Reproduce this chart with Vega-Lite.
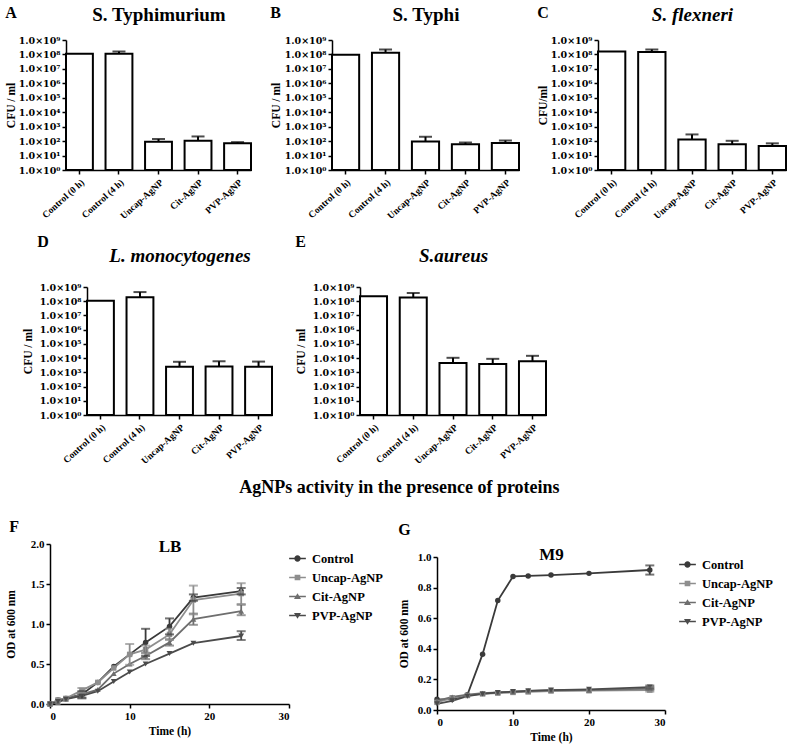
{
  "$schema": "https://vega.github.io/schema/vega-lite/v6.json",
  "background": "white",
  "padding": 5,
  "config": {
    "font": "Liberation Serif",
    "view": {"stroke": null},
    "axis": {"grid": false, "labelFont": "Liberation Serif", "labelFontWeight": "bold", "labelFontSize": 11, "labelColor": "black", "labelOverlap": false, "titleFont": "Liberation Serif", "titleFontWeight": "bold", "titleFontSize": 11.5, "titleColor": "black", "domainColor": "black", "domainWidth": 1.5, "tickColor": "black", "tickWidth": 1.5, "tickSize": 4},
    "title": {"font": "Liberation Serif", "fontWeight": "bold", "color": "black"},
    "legend": {"labelFont": "Liberation Serif", "labelFontWeight": "bold", "labelFontSize": 12.5, "labelColor": "black"}
  },
  "datasets": {
    "bars": [
      {"panel": "A", "group": "Control (0 h)", "mean": 110000000, "upper": null},
      {"panel": "A", "group": "Control (4 h)", "mean": 110000000, "upper": 160000000},
      {"panel": "A", "group": "Uncap-AgNP", "mean": 90, "upper": 140},
      {"panel": "A", "group": "Cit-AgNP", "mean": 105, "upper": 210},
      {"panel": "A", "group": "PVP-AgNP", "mean": 70, "upper": 85},
      {"panel": "B", "group": "Control (0 h)", "mean": 95000000, "upper": null},
      {"panel": "B", "group": "Control (4 h)", "mean": 130000000, "upper": 220000000},
      {"panel": "B", "group": "Uncap-AgNP", "mean": 95, "upper": 200},
      {"panel": "B", "group": "Cit-AgNP", "mean": 60, "upper": 80},
      {"panel": "B", "group": "PVP-AgNP", "mean": 75, "upper": 110},
      {"panel": "C", "group": "Control (0 h)", "mean": 160000000, "upper": null},
      {"panel": "C", "group": "Control (4 h)", "mean": 150000000, "upper": 220000000},
      {"panel": "C", "group": "Uncap-AgNP", "mean": 130, "upper": 290},
      {"panel": "C", "group": "Cit-AgNP", "mean": 60, "upper": 105},
      {"panel": "C", "group": "PVP-AgNP", "mean": 45, "upper": 70},
      {"panel": "D", "group": "Control (0 h)", "mean": 110000000, "upper": null},
      {"panel": "D", "group": "Control (4 h)", "mean": 190000000, "upper": 440000000},
      {"panel": "D", "group": "Uncap-AgNP", "mean": 2500, "upper": 5500},
      {"panel": "D", "group": "Cit-AgNP", "mean": 2600, "upper": 6000},
      {"panel": "D", "group": "PVP-AgNP", "mean": 2500, "upper": 5700},
      {"panel": "E", "group": "Control (0 h)", "mean": 220000000, "upper": null},
      {"panel": "E", "group": "Control (4 h)", "mean": 180000000, "upper": 380000000},
      {"panel": "E", "group": "Uncap-AgNP", "mean": 4500, "upper": 10500},
      {"panel": "E", "group": "Cit-AgNP", "mean": 3800, "upper": 8900},
      {"panel": "E", "group": "PVP-AgNP", "mean": 5900, "upper": 14500}
    ],
    "lb": [
      {"t": 0, "series": "Control", "od": 0.0, "lo": null, "hi": null},
      {"t": 1, "series": "Control", "od": 0.05, "lo": null, "hi": null},
      {"t": 2, "series": "Control", "od": 0.07, "lo": null, "hi": null},
      {"t": 4, "series": "Control", "od": 0.12, "lo": 0.08, "hi": 0.16},
      {"t": 6, "series": "Control", "od": 0.27, "lo": null, "hi": null},
      {"t": 8, "series": "Control", "od": 0.47, "lo": null, "hi": null},
      {"t": 10, "series": "Control", "od": 0.62, "lo": null, "hi": null},
      {"t": 12, "series": "Control", "od": 0.77, "lo": 0.6, "hi": 0.94},
      {"t": 15, "series": "Control", "od": 0.97, "lo": 0.87, "hi": 1.07},
      {"t": 18, "series": "Control", "od": 1.33, "lo": 1.29, "hi": 1.37},
      {"t": 24, "series": "Control", "od": 1.41, "lo": 1.37, "hi": 1.45},
      {"t": 0, "series": "Uncap-AgNP", "od": 0.0, "lo": null, "hi": null},
      {"t": 1, "series": "Uncap-AgNP", "od": 0.05, "lo": null, "hi": null},
      {"t": 2, "series": "Uncap-AgNP", "od": 0.07, "lo": null, "hi": null},
      {"t": 4, "series": "Uncap-AgNP", "od": 0.17, "lo": 0.14, "hi": 0.2},
      {"t": 6, "series": "Uncap-AgNP", "od": 0.27, "lo": null, "hi": null},
      {"t": 8, "series": "Uncap-AgNP", "od": 0.45, "lo": null, "hi": null},
      {"t": 10, "series": "Uncap-AgNP", "od": 0.62, "lo": 0.49, "hi": 0.75},
      {"t": 12, "series": "Uncap-AgNP", "od": 0.68, "lo": 0.63, "hi": 0.73},
      {"t": 15, "series": "Uncap-AgNP", "od": 0.87, "lo": 0.8, "hi": 0.94},
      {"t": 18, "series": "Uncap-AgNP", "od": 1.3, "lo": 1.12, "hi": 1.48},
      {"t": 24, "series": "Uncap-AgNP", "od": 1.38, "lo": 1.25, "hi": 1.51},
      {"t": 0, "series": "Cit-AgNP", "od": 0.0, "lo": null, "hi": null},
      {"t": 1, "series": "Cit-AgNP", "od": 0.02, "lo": null, "hi": null},
      {"t": 2, "series": "Cit-AgNP", "od": 0.06, "lo": null, "hi": null},
      {"t": 4, "series": "Cit-AgNP", "od": 0.12, "lo": null, "hi": null},
      {"t": 6, "series": "Cit-AgNP", "od": 0.18, "lo": null, "hi": null},
      {"t": 8, "series": "Cit-AgNP", "od": 0.38, "lo": null, "hi": null},
      {"t": 10, "series": "Cit-AgNP", "od": 0.5, "lo": null, "hi": null},
      {"t": 12, "series": "Cit-AgNP", "od": 0.6, "lo": 0.56, "hi": 0.64},
      {"t": 15, "series": "Cit-AgNP", "od": 0.77, "lo": 0.73, "hi": 0.81},
      {"t": 18, "series": "Cit-AgNP", "od": 1.06, "lo": 0.99, "hi": 1.13},
      {"t": 24, "series": "Cit-AgNP", "od": 1.16, "lo": 1.11, "hi": 1.24},
      {"t": 0, "series": "PVP-AgNP", "od": 0.0, "lo": null, "hi": null},
      {"t": 1, "series": "PVP-AgNP", "od": 0.03, "lo": null, "hi": null},
      {"t": 2, "series": "PVP-AgNP", "od": 0.06, "lo": null, "hi": null},
      {"t": 4, "series": "PVP-AgNP", "od": 0.1, "lo": 0.07, "hi": 0.13},
      {"t": 6, "series": "PVP-AgNP", "od": 0.16, "lo": null, "hi": null},
      {"t": 8, "series": "PVP-AgNP", "od": 0.28, "lo": null, "hi": null},
      {"t": 10, "series": "PVP-AgNP", "od": 0.4, "lo": null, "hi": null},
      {"t": 12, "series": "PVP-AgNP", "od": 0.5, "lo": null, "hi": null},
      {"t": 15, "series": "PVP-AgNP", "od": 0.63, "lo": null, "hi": null},
      {"t": 18, "series": "PVP-AgNP", "od": 0.76, "lo": null, "hi": null},
      {"t": 24, "series": "PVP-AgNP", "od": 0.85, "lo": 0.8, "hi": 0.91}
    ],
    "m9": [
      {"t": 0, "series": "Control", "od": 0.07, "lo": null, "hi": null},
      {"t": 2, "series": "Control", "od": 0.07, "lo": null, "hi": null},
      {"t": 4, "series": "Control", "od": 0.1, "lo": null, "hi": null},
      {"t": 6, "series": "Control", "od": 0.365, "lo": null, "hi": null},
      {"t": 8, "series": "Control", "od": 0.715, "lo": null, "hi": null},
      {"t": 10, "series": "Control", "od": 0.873, "lo": null, "hi": null},
      {"t": 12, "series": "Control", "od": 0.876, "lo": null, "hi": null},
      {"t": 15, "series": "Control", "od": 0.882, "lo": null, "hi": null},
      {"t": 20, "series": "Control", "od": 0.893, "lo": null, "hi": null},
      {"t": 28, "series": "Control", "od": 0.915, "lo": 0.885, "hi": 0.945},
      {"t": 0, "series": "Uncap-AgNP", "od": 0.05, "lo": null, "hi": null},
      {"t": 2, "series": "Uncap-AgNP", "od": 0.08, "lo": null, "hi": null},
      {"t": 4, "series": "Uncap-AgNP", "od": 0.095, "lo": null, "hi": null},
      {"t": 6, "series": "Uncap-AgNP", "od": 0.105, "lo": null, "hi": null},
      {"t": 8, "series": "Uncap-AgNP", "od": 0.11, "lo": null, "hi": null},
      {"t": 10, "series": "Uncap-AgNP", "od": 0.115, "lo": null, "hi": null},
      {"t": 12, "series": "Uncap-AgNP", "od": 0.118, "lo": null, "hi": null},
      {"t": 15, "series": "Uncap-AgNP", "od": 0.124, "lo": null, "hi": null},
      {"t": 20, "series": "Uncap-AgNP", "od": 0.126, "lo": null, "hi": null},
      {"t": 28, "series": "Uncap-AgNP", "od": 0.13, "lo": 0.12, "hi": 0.14},
      {"t": 0, "series": "Cit-AgNP", "od": 0.06, "lo": null, "hi": null},
      {"t": 2, "series": "Cit-AgNP", "od": 0.085, "lo": null, "hi": null},
      {"t": 4, "series": "Cit-AgNP", "od": 0.1, "lo": null, "hi": null},
      {"t": 6, "series": "Cit-AgNP", "od": 0.11, "lo": null, "hi": null},
      {"t": 8, "series": "Cit-AgNP", "od": 0.115, "lo": null, "hi": null},
      {"t": 10, "series": "Cit-AgNP", "od": 0.12, "lo": null, "hi": null},
      {"t": 12, "series": "Cit-AgNP", "od": 0.125, "lo": null, "hi": null},
      {"t": 15, "series": "Cit-AgNP", "od": 0.13, "lo": null, "hi": null},
      {"t": 20, "series": "Cit-AgNP", "od": 0.13, "lo": null, "hi": null},
      {"t": 28, "series": "Cit-AgNP", "od": 0.14, "lo": 0.13, "hi": 0.15},
      {"t": 0, "series": "PVP-AgNP", "od": 0.04, "lo": null, "hi": null},
      {"t": 2, "series": "PVP-AgNP", "od": 0.06, "lo": null, "hi": null},
      {"t": 4, "series": "PVP-AgNP", "od": 0.09, "lo": null, "hi": null},
      {"t": 6, "series": "PVP-AgNP", "od": 0.105, "lo": null, "hi": null},
      {"t": 8, "series": "PVP-AgNP", "od": 0.115, "lo": null, "hi": null},
      {"t": 10, "series": "PVP-AgNP", "od": 0.12, "lo": null, "hi": null},
      {"t": 12, "series": "PVP-AgNP", "od": 0.125, "lo": null, "hi": null},
      {"t": 15, "series": "PVP-AgNP", "od": 0.13, "lo": null, "hi": null},
      {"t": 20, "series": "PVP-AgNP", "od": 0.135, "lo": null, "hi": null},
      {"t": 28, "series": "PVP-AgNP", "od": 0.15, "lo": 0.14, "hi": 0.16}
    ]
  },
  "spacing": 13,
  "vconcat": [
    {
      "spacing": 17,
      "hconcat": [
        {
          "title": {"text": "A", "anchor": "start", "frame": "bounds", "fontSize": 16, "offset": -16},
          "width": 201, "height": 130,
          "data": {"name": "bars"},
          "transform": [{"filter": "datum.panel === 'A'"}],
          "resolve": {"axis": {"x": "independent"}},
          "encoding": {"y": {"field": "mean", "type": "quantitative", "scale": {"type": "log", "domain": [1, 1000000000]}, "axis": {"title": "CFU / ml", "titlePadding": 2, "offset": -16, "labelFont": "DejaVu Serif", "labelFontSize": 9.5, "values": [1, 10, 100, 1000, 10000, 100000, 1000000, 10000000, 100000000, 1000000000], "labelExpr": "'1.0×10' + ['⁰','¹','²','³','⁴','⁵','⁶','⁷','⁸','⁹'][round(log(datum.value)/LN10)]"}}},
          "layer": [
            {"mark": {"type": "bar", "fill": "white", "stroke": "black", "strokeWidth": 2}, "encoding": {"x": {"field": "group", "type": "nominal", "sort": null, "scale": {"range": [16, 201], "paddingInner": 0.32, "paddingOuter": 0}, "axis": {"title": null, "labelAngle": -42, "labelFontSize": 9.5, "labelPadding": 3}}, "y2": {"datum": 1}}},
            {"transform": [{"filter": "isValid(datum.upper)"}], "mark": {"type": "rule", "strokeWidth": 2, "color": "black"}, "encoding": {"x": {"field": "group", "type": "nominal", "sort": null, "axis": {"orient": "top", "title": "S. Typhimurium", "titleFontSize": 19, "titlePadding": 16, "domain": false, "ticks": false, "labels": false}}, "y2": {"field": "upper"}}},
            {"transform": [{"filter": "isValid(datum.upper)"}], "mark": {"type": "tick", "thickness": 2, "size": 13, "color": "black", "orient": "horizontal"}, "encoding": {"x": {"field": "group", "type": "nominal", "sort": null, "axis": null}, "y": {"field": "upper", "type": "quantitative"}}}
          ]
        },
        {
          "title": {"text": "B", "anchor": "start", "frame": "bounds", "fontSize": 16, "offset": -16},
          "width": 187, "height": 130,
          "data": {"name": "bars"},
          "transform": [{"filter": "datum.panel === 'B'"}],
          "resolve": {"axis": {"x": "independent"}},
          "encoding": {"y": {"field": "mean", "type": "quantitative", "scale": {"type": "log", "domain": [1, 1000000000]}, "axis": {"title": "CFU / ml", "titlePadding": 3, "labelFont": "DejaVu Serif", "labelFontSize": 9.5, "values": [1, 10, 100, 1000, 10000, 100000, 1000000, 10000000, 100000000, 1000000000], "labelExpr": "'1.0×10' + ['⁰','¹','²','³','⁴','⁵','⁶','⁷','⁸','⁹'][round(log(datum.value)/LN10)]"}}},
          "layer": [
            {"mark": {"type": "bar", "fill": "white", "stroke": "black", "strokeWidth": 2}, "encoding": {"x": {"field": "group", "type": "nominal", "sort": null, "scale": {"paddingInner": 0.32, "paddingOuter": 0}, "axis": {"title": null, "labelAngle": -42, "labelFontSize": 9.5, "labelPadding": 3}}, "y2": {"datum": 1}}},
            {"transform": [{"filter": "isValid(datum.upper)"}], "mark": {"type": "rule", "strokeWidth": 2, "color": "black"}, "encoding": {"x": {"field": "group", "type": "nominal", "sort": null, "axis": {"orient": "top", "title": "S. Typhi", "titleFontSize": 19, "titlePadding": 16, "domain": false, "ticks": false, "labels": false}}, "y2": {"field": "upper"}}},
            {"transform": [{"filter": "isValid(datum.upper)"}], "mark": {"type": "tick", "thickness": 2, "size": 13, "color": "black", "orient": "horizontal"}, "encoding": {"x": {"field": "group", "type": "nominal", "sort": null, "axis": null}, "y": {"field": "upper", "type": "quantitative"}}}
          ]
        },
        {
          "title": {"text": "C", "anchor": "start", "frame": "bounds", "fontSize": 16, "offset": -16},
          "width": 188, "height": 130,
          "data": {"name": "bars"},
          "transform": [{"filter": "datum.panel === 'C'"}],
          "resolve": {"axis": {"x": "independent"}},
          "encoding": {"y": {"field": "mean", "type": "quantitative", "scale": {"type": "log", "domain": [1, 1000000000]}, "axis": {"title": "CFU/ml", "titlePadding": 2, "labelFont": "DejaVu Serif", "labelFontSize": 9.5, "values": [1, 10, 100, 1000, 10000, 100000, 1000000, 10000000, 100000000, 1000000000], "labelExpr": "'1.0×10' + ['⁰','¹','²','³','⁴','⁵','⁶','⁷','⁸','⁹'][round(log(datum.value)/LN10)]"}}},
          "layer": [
            {"mark": {"type": "bar", "fill": "white", "stroke": "black", "strokeWidth": 2}, "encoding": {"x": {"field": "group", "type": "nominal", "sort": null, "scale": {"paddingInner": 0.32, "paddingOuter": 0}, "axis": {"title": null, "labelAngle": -42, "labelFontSize": 9.5, "labelPadding": 3}}, "y2": {"datum": 1}}},
            {"transform": [{"filter": "isValid(datum.upper)"}], "mark": {"type": "rule", "strokeWidth": 2, "color": "black"}, "encoding": {"x": {"field": "group", "type": "nominal", "sort": null, "axis": {"orient": "top", "title": "S. flexneri", "titleFontSize": 19, "titleFontStyle": "italic", "titlePadding": 16, "domain": false, "ticks": false, "labels": false}}, "y2": {"field": "upper"}}},
            {"transform": [{"filter": "isValid(datum.upper)"}], "mark": {"type": "tick", "thickness": 2, "size": 13, "color": "black", "orient": "horizontal"}, "encoding": {"x": {"field": "group", "type": "nominal", "sort": null, "axis": null}, "y": {"field": "upper", "type": "quantitative"}}}
          ]
        }
      ]
    },
    {
      "spacing": 21,
      "hconcat": [
        {
          "title": {"text": "D", "anchor": "start", "frame": "bounds", "fontSize": 16, "offset": -4, "dx": 15},
          "width": 222, "height": 128,
          "data": {"name": "bars"},
          "transform": [{"filter": "datum.panel === 'D'"}],
          "resolve": {"axis": {"x": "independent"}},
          "encoding": {"y": {"field": "mean", "type": "quantitative", "scale": {"type": "log", "domain": [1, 1000000000]}, "axis": {"title": "CFU / ml", "titlePadding": 6, "offset": -37, "labelFont": "DejaVu Serif", "labelFontSize": 9.5, "values": [1, 10, 100, 1000, 10000, 100000, 1000000, 10000000, 100000000, 1000000000], "labelExpr": "'1.0×10' + ['⁰','¹','²','³','⁴','⁵','⁶','⁷','⁸','⁹'][round(log(datum.value)/LN10)]"}}},
          "layer": [
            {"mark": {"type": "bar", "fill": "white", "stroke": "black", "strokeWidth": 2}, "encoding": {"x": {"field": "group", "type": "nominal", "sort": null, "scale": {"range": [37, 222], "paddingInner": 0.32, "paddingOuter": 0}, "axis": {"title": null, "labelAngle": -42, "labelFontSize": 9.5, "labelPadding": 3}}, "y2": {"datum": 1}}},
            {"transform": [{"filter": "isValid(datum.upper)"}], "mark": {"type": "rule", "strokeWidth": 2, "color": "black"}, "encoding": {"x": {"field": "group", "type": "nominal", "sort": null, "axis": {"orient": "top", "title": "L. monocytogenes", "titleFontSize": 19, "titleFontStyle": "italic", "titlePadding": 22, "domain": false, "ticks": false, "labels": false}}, "y2": {"field": "upper"}}},
            {"transform": [{"filter": "isValid(datum.upper)"}], "mark": {"type": "tick", "thickness": 2, "size": 13, "color": "black", "orient": "horizontal"}, "encoding": {"x": {"field": "group", "type": "nominal", "sort": null, "axis": null}, "y": {"field": "upper", "type": "quantitative"}}}
          ]
        },
        {
          "title": {"text": "E", "anchor": "start", "frame": "bounds", "fontSize": 16, "offset": -4},
          "width": 186, "height": 128,
          "data": {"name": "bars"},
          "transform": [{"filter": "datum.panel === 'E'"}],
          "resolve": {"axis": {"x": "independent"}},
          "encoding": {"y": {"field": "mean", "type": "quantitative", "scale": {"type": "log", "domain": [1, 1000000000]}, "axis": {"title": "CFU / ml", "titlePadding": 6, "labelFont": "DejaVu Serif", "labelFontSize": 9.5, "values": [1, 10, 100, 1000, 10000, 100000, 1000000, 10000000, 100000000, 1000000000], "labelExpr": "'1.0×10' + ['⁰','¹','²','³','⁴','⁵','⁶','⁷','⁸','⁹'][round(log(datum.value)/LN10)]"}}},
          "layer": [
            {"mark": {"type": "bar", "fill": "white", "stroke": "black", "strokeWidth": 2}, "encoding": {"x": {"field": "group", "type": "nominal", "sort": null, "scale": {"paddingInner": 0.32, "paddingOuter": 0}, "axis": {"title": null, "labelAngle": -42, "labelFontSize": 9.5, "labelPadding": 3}}, "y2": {"datum": 1}}},
            {"transform": [{"filter": "isValid(datum.upper)"}], "mark": {"type": "rule", "strokeWidth": 2, "color": "black"}, "encoding": {"x": {"field": "group", "type": "nominal", "sort": null, "axis": {"orient": "top", "title": "S.aureus", "titleFontSize": 19, "titleFontStyle": "italic", "titlePadding": 22, "domain": false, "ticks": false, "labels": false}}, "y2": {"field": "upper"}}},
            {"transform": [{"filter": "isValid(datum.upper)"}], "mark": {"type": "tick", "thickness": 2, "size": 13, "color": "black", "orient": "horizontal"}, "encoding": {"x": {"field": "group", "type": "nominal", "sort": null, "axis": null}, "y": {"field": "upper", "type": "quantitative"}}}
          ]
        }
      ]
    },
    {
      "title": {"text": "AgNPs activity in the presence of proteins", "fontSize": 18, "anchor": "start", "frame": "bounds", "dx": 234, "offset": 22},
      "spacing": 9,
      "resolve": {"scale": {"color": "independent"}},
      "hconcat": [
        {
          "title": {"text": "F", "anchor": "start", "frame": "bounds", "fontSize": 16, "offset": 2, "dx": 4},
          "width": 239, "height": 160,
          "data": {"name": "lb"},
          "resolve": {"axis": {"x": "independent"}},
          "encoding": {
            "y": {"field": "od", "type": "quantitative", "scale": {"domain": [0, 2]}, "axis": {"title": "OD at 600 nm", "titlePadding": 14, "values": [0, 0.5, 1, 1.5, 2], "format": ".1f", "labelOverlap": false}},
            "color": {"field": "series", "type": "nominal", "sort": ["Control", "Uncap-AgNP", "Cit-AgNP", "PVP-AgNP"], "scale": {"domain": ["Control", "Uncap-AgNP", "Cit-AgNP", "PVP-AgNP"], "range": ["#3a3a3a", "#8e8e8e", "#6e6e6e", "#4b4b4b"]}, "legend": {"title": null, "offset": -6, "padding": 6, "symbolSize": 280, "labelOffset": 6, "rowPadding": 4, "encode": {"symbols": {"update": {"shape": {"signal": "datum.value === 'Control' ? 'M-1,-0.09H1V0.09H-1Z M0.38,0A0.38,0.38 0 1 1 -0.38,0A0.38,0.38 0 1 1 0.38,0Z' : datum.value === 'Uncap-AgNP' ? 'M-1,-0.09H1V0.09H-1Z M-0.34,-0.34H0.34V0.34H-0.34Z' : datum.value === 'Cit-AgNP' ? 'M-1,-0.09H1V0.09H-1Z M0,-0.4L0.42,0.3H-0.42Z' : 'M-1,-0.09H1V0.09H-1Z M0,0.4L-0.42,-0.3H0.42Z'"}, "strokeWidth": {"value": 0}}}}}}
          },
          "layer": [
            {"mark": {"type": "line", "strokeWidth": 1.8}, "encoding": {"x": {"field": "t", "type": "quantitative", "scale": {"domain": [0, 30]}, "axis": {"title": "Time (h)", "values": [0, 10, 20, 30]}}}},
            {"transform": [{"filter": "datum.series === 'Control'"}], "mark": {"type": "point", "filled": true, "size": 30, "opacity": 1, "shape": "circle"}, "encoding": {"x": {"field": "t", "type": "quantitative", "axis": {"orient": "top", "title": "LB", "titleFontSize": 17, "titlePadding": -11, "domain": false, "ticks": false, "labels": false}}}},
            {"transform": [{"filter": "datum.series === 'Uncap-AgNP'"}], "mark": {"type": "point", "filled": true, "size": 30, "opacity": 1, "shape": "square"}, "encoding": {"x": {"field": "t", "type": "quantitative", "axis": null}}},
            {"transform": [{"filter": "datum.series === 'Cit-AgNP'"}], "mark": {"type": "point", "filled": true, "size": 34, "opacity": 1, "shape": "triangle-up"}, "encoding": {"x": {"field": "t", "type": "quantitative", "axis": null}}},
            {"transform": [{"filter": "datum.series === 'PVP-AgNP'"}], "mark": {"type": "point", "filled": true, "size": 34, "opacity": 1, "shape": "triangle-down"}, "encoding": {"x": {"field": "t", "type": "quantitative", "axis": null}}},
            {"transform": [{"filter": "isValid(datum.hi)"}], "mark": {"type": "rule", "strokeWidth": 1.8}, "encoding": {"x": {"field": "t", "type": "quantitative", "axis": null}, "y": {"field": "lo", "type": "quantitative"}, "y2": {"field": "hi"}}},
            {"transform": [{"filter": "isValid(datum.hi)"}], "mark": {"type": "tick", "thickness": 2, "size": 9, "orient": "horizontal"}, "encoding": {"x": {"field": "t", "type": "quantitative", "axis": null}, "y": {"field": "hi", "type": "quantitative"}}},
            {"transform": [{"filter": "isValid(datum.hi)"}], "mark": {"type": "tick", "thickness": 2, "size": 9, "orient": "horizontal"}, "encoding": {"x": {"field": "t", "type": "quantitative", "axis": null}, "y": {"field": "lo", "type": "quantitative"}}}
          ]
        },
        {
          "title": {"text": "G", "anchor": "start", "frame": "bounds", "fontSize": 16, "offset": 6},
          "width": 228, "height": 166,
          "data": {"name": "m9"},
          "resolve": {"axis": {"x": "independent"}},
          "encoding": {
            "y": {"field": "od", "type": "quantitative", "scale": {"domain": [0, 1], "range": [166, 13]}, "axis": {"title": "OD at 600 nm", "titlePadding": 8, "values": [0, 0.2, 0.4, 0.6, 0.8, 1], "format": ".1f", "labelOverlap": false}},
            "color": {"field": "series", "type": "nominal", "sort": ["Control", "Uncap-AgNP", "Cit-AgNP", "PVP-AgNP"], "scale": {"domain": ["Control", "Uncap-AgNP", "Cit-AgNP", "PVP-AgNP"], "range": ["#3a3a3a", "#8e8e8e", "#6e6e6e", "#4b4b4b"]}, "legend": {"title": null, "offset": 2, "padding": 12, "symbolSize": 280, "labelOffset": 6, "rowPadding": 4, "encode": {"symbols": {"update": {"shape": {"signal": "datum.value === 'Control' ? 'M-1,-0.09H1V0.09H-1Z M0.38,0A0.38,0.38 0 1 1 -0.38,0A0.38,0.38 0 1 1 0.38,0Z' : datum.value === 'Uncap-AgNP' ? 'M-1,-0.09H1V0.09H-1Z M-0.34,-0.34H0.34V0.34H-0.34Z' : datum.value === 'Cit-AgNP' ? 'M-1,-0.09H1V0.09H-1Z M0,-0.4L0.42,0.3H-0.42Z' : 'M-1,-0.09H1V0.09H-1Z M0,0.4L-0.42,-0.3H0.42Z'"}, "strokeWidth": {"value": 0}}}}}}
          },
          "layer": [
            {"mark": {"type": "line", "strokeWidth": 1.8}, "encoding": {"x": {"field": "t", "type": "quantitative", "scale": {"domain": [0, 30]}, "axis": {"title": "Time (h)", "values": [0, 10, 20, 30]}}}},
            {"transform": [{"filter": "datum.series === 'Control'"}], "mark": {"type": "point", "filled": true, "size": 30, "opacity": 1, "shape": "circle"}, "encoding": {"x": {"field": "t", "type": "quantitative", "axis": {"orient": "top", "title": "M9", "titleFontSize": 17, "titlePadding": -19, "domain": false, "ticks": false, "labels": false}}}},
            {"transform": [{"filter": "datum.series === 'Uncap-AgNP'"}], "mark": {"type": "point", "filled": true, "size": 30, "opacity": 1, "shape": "square"}, "encoding": {"x": {"field": "t", "type": "quantitative", "axis": null}}},
            {"transform": [{"filter": "datum.series === 'Cit-AgNP'"}], "mark": {"type": "point", "filled": true, "size": 34, "opacity": 1, "shape": "triangle-up"}, "encoding": {"x": {"field": "t", "type": "quantitative", "axis": null}}},
            {"transform": [{"filter": "datum.series === 'PVP-AgNP'"}], "mark": {"type": "point", "filled": true, "size": 34, "opacity": 1, "shape": "triangle-down"}, "encoding": {"x": {"field": "t", "type": "quantitative", "axis": null}}},
            {"transform": [{"filter": "isValid(datum.hi)"}], "mark": {"type": "rule", "strokeWidth": 1.8}, "encoding": {"x": {"field": "t", "type": "quantitative", "axis": null}, "y": {"field": "lo", "type": "quantitative"}, "y2": {"field": "hi"}}},
            {"transform": [{"filter": "isValid(datum.hi)"}], "mark": {"type": "tick", "thickness": 2, "size": 9, "orient": "horizontal"}, "encoding": {"x": {"field": "t", "type": "quantitative", "axis": null}, "y": {"field": "hi", "type": "quantitative"}}},
            {"transform": [{"filter": "isValid(datum.hi)"}], "mark": {"type": "tick", "thickness": 2, "size": 9, "orient": "horizontal"}, "encoding": {"x": {"field": "t", "type": "quantitative", "axis": null}, "y": {"field": "lo", "type": "quantitative"}}}
          ]
        }
      ]
    }
  ]
}
